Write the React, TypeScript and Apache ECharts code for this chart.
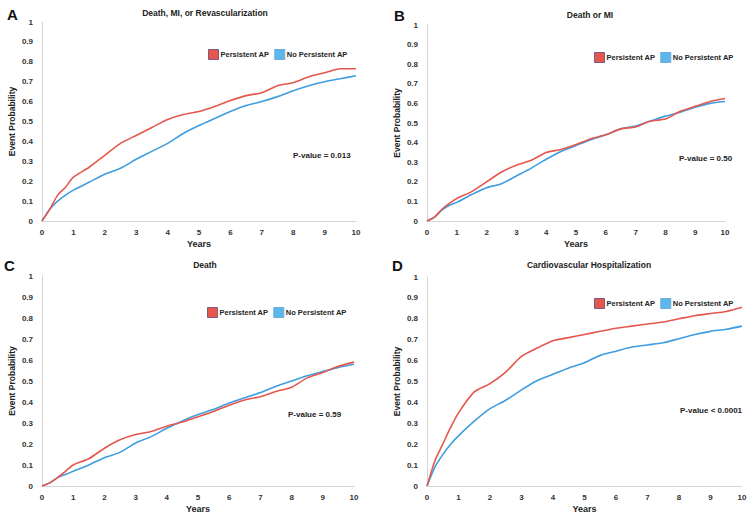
import React, { useEffect, useRef } from "react";
import * as echarts from "echarts";

const years = [0, 0.25, 0.5, 0.75, 1, 1.5, 2, 2.5, 3, 3.5, 4, 4.5, 5, 5.5, 6, 6.5, 7, 7.5, 8, 8.5, 9, 9.5, 10];

const aPersistent = [0, 0.06, 0.13, 0.17, 0.22, 0.27, 0.33, 0.39, 0.43, 0.47, 0.51, 0.535, 0.55, 0.575, 0.605, 0.63, 0.645, 0.68, 0.695, 0.725, 0.745, 0.765, 0.765];
const aNoPersistent = [0, 0.06, 0.1, 0.13, 0.155, 0.195, 0.235, 0.265, 0.31, 0.35, 0.39, 0.44, 0.48, 0.515, 0.55, 0.58, 0.6, 0.625, 0.655, 0.68, 0.7, 0.715, 0.73];
const bPersistent = [0, 0.02, 0.06, 0.09, 0.115, 0.15, 0.2, 0.25, 0.285, 0.31, 0.35, 0.365, 0.39, 0.42, 0.44, 0.47, 0.48, 0.51, 0.52, 0.56, 0.585, 0.61, 0.625];
const bNoPersistent = [0, 0.02, 0.055, 0.08, 0.095, 0.135, 0.17, 0.19, 0.23, 0.27, 0.315, 0.355, 0.385, 0.415, 0.44, 0.47, 0.485, 0.51, 0.535, 0.555, 0.58, 0.6, 0.61];
const cPersistent = [0, 0.015, 0.04, 0.07, 0.1, 0.13, 0.18, 0.22, 0.245, 0.26, 0.285, 0.305, 0.33, 0.355, 0.385, 0.41, 0.425, 0.45, 0.47, 0.515, 0.54, 0.57, 0.59];
const cNoPersistent = [0, 0.015, 0.04, 0.055, 0.07, 0.1, 0.135, 0.16, 0.205, 0.235, 0.275, 0.31, 0.34, 0.365, 0.395, 0.42, 0.445, 0.475, 0.5, 0.525, 0.545, 0.565, 0.58];
const dPersistent = [0, 0.12, 0.2, 0.28, 0.35, 0.45, 0.49, 0.545, 0.62, 0.66, 0.695, 0.71, 0.725, 0.74, 0.755, 0.765, 0.775, 0.785, 0.8, 0.815, 0.825, 0.835, 0.855];
const dNoPersistent = [0, 0.09, 0.15, 0.2, 0.24, 0.31, 0.37, 0.41, 0.46, 0.505, 0.535, 0.565, 0.59, 0.625, 0.645, 0.665, 0.675, 0.685, 0.705, 0.725, 0.74, 0.75, 0.765];

const panelLetters = ["A", "B", "C", "D"];
const panelTitles = ["Death, MI, or Revascularization", "Death or MI", "Death", "Cardiovascular Hospitalization"];
const pValues = ["P-value = 0.013", "P-value = 0.50", "P-value = 0.59", "P-value < 0.0001"];
const seriesNames = ["Persistent AP", "No Persistent AP"];

const RED = "#e5574c";
const BLUE = "#3f9de0";
const FONT = "Liberation Sans";

const grids = [
  { left: 42, top: 22, width: 314, height: 199 },
  { left: 427, top: 25, width: 298, height: 196 },
  { left: 42, top: 276, width: 312, height: 210 },
  { left: 427, top: 277, width: 315, height: 209 },
];
const titlePos = [
  { x: 205, y: 13 },
  { x: 590, y: 15 },
  { x: 205, y: 265 },
  { x: 589, y: 265 },
];
const letterPos = [
  { x: 7, y: 14 },
  { x: 394, y: 15 },
  { x: 4, y: 265 },
  { x: 392, y: 265 },
];
const legendPos = [
  { x: 208, y: 49 },
  { x: 594, y: 52 },
  { x: 207, y: 307 },
  { x: 594, y: 298 },
];
const pPos = [
  { x: 293, y: 155 },
  { x: 679, y: 158 },
  { x: 288, y: 414 },
  { x: 680, y: 410 },
];

export default function App() {
  const ref = useRef<HTMLDivElement>(null);
  useEffect(() => {
    if (!ref.current) return;
    const chart = echarts.init(ref.current, null, { renderer: "svg" });
    const data = [
      [aPersistent, aNoPersistent],
      [bPersistent, bNoPersistent],
      [cPersistent, cNoPersistent],
      [dPersistent, dNoPersistent],
    ];
    const series: any[] = [];
    data.forEach((pair, gi) => {
      pair.forEach((vals, si) => {
        series.push({
          type: "line",
          name: seriesNames[si],
          xAxisIndex: gi,
          yAxisIndex: gi,
          data: years.map((x, i) => [x, vals[i]]),
          showSymbol: false,
          smooth: 0.25,
          lineStyle: { width: 1.6, color: si === 0 ? RED : BLUE },
          itemStyle: { color: si === 0 ? RED : BLUE },
          z: si === 0 ? 3 : 2,
        });
      });
    });
    const axisLabel = { color: "#333", fontFamily: FONT, fontWeight: "bold" as const, fontSize: 8 };
    const option: any = {
      animation: false,
      backgroundColor: "#ffffff",
      grid: grids.map((g) => ({ ...g, containLabel: false })),
      xAxis: grids.map((_, i) => ({
        type: "value",
        gridIndex: i,
        min: 0,
        max: 10,
        interval: 1,
        name: "Years",
        nameLocation: "middle",
        nameGap: 18,
        nameTextStyle: { color: "#222", fontFamily: FONT, fontWeight: "bold", fontSize: 9 },
        axisLine: { show: true, lineStyle: { color: "#d4d4d4", width: 1 } },
        axisTick: { show: false },
        splitLine: { show: false },
        axisLabel: { ...axisLabel, margin: 7 },
      })),
      yAxis: grids.map((_, i) => ({
        type: "value",
        gridIndex: i,
        min: 0,
        max: 1,
        interval: 0.1,
        name: "Event Probability",
        nameLocation: "middle",
        nameGap: 26,
        nameTextStyle: { color: "#222", fontFamily: FONT, fontWeight: "bold", fontSize: 8.5 },
        axisLine: { show: true, lineStyle: { color: "#d4d4d4", width: 1 } },
        axisTick: { show: false },
        splitLine: { show: false },
        axisLabel: { ...axisLabel, margin: 9, formatter: (v: number) => String(Math.round(v * 10) / 10) },
      })),
      legend: legendPos.map((p) => ({
        left: p.x,
        top: p.y,
        padding: 0,
        itemWidth: 10,
        itemHeight: 10,
        itemGap: 5,
        icon: "rect",
        selectedMode: false,
        textStyle: { color: "#222", fontFamily: FONT, fontWeight: "bold", fontSize: 7.5, padding: [0, 0, 0, -3] },
        data: [
          { name: seriesNames[0], itemStyle: { color: RED, borderColor: "#7d5a86", borderWidth: 1 } },
          { name: seriesNames[1], itemStyle: { color: "#5cb8ec", borderColor: "#6faad8", borderWidth: 1 } },
        ],
      })),
      graphic: [
        ...panelTitles.map((t, i) => ({
          type: "text",
          x: titlePos[i].x,
          y: titlePos[i].y,
          style: { text: t, fill: "#222", font: `bold 8.5px "${FONT}"`, align: "center", verticalAlign: "middle" },
        })),
        ...panelLetters.map((t, i) => ({
          type: "text",
          x: letterPos[i].x,
          y: letterPos[i].y,
          style: { text: t, fill: "#111", font: `bold 15px "${FONT}"`, align: "left", verticalAlign: "middle" },
        })),
        ...pValues.map((t, i) => ({
          type: "text",
          x: pPos[i].x,
          y: pPos[i].y,
          style: { text: t, fill: "#222", font: `bold 8px "${FONT}"`, align: "left", verticalAlign: "middle" },
        })),
      ],
      series,
    };
    chart.setOption(option);
    return () => chart.dispose();
  }, []);
  return (
    <div
      ref={ref}
      style={{ position: "fixed", left: 0, top: 0, width: 754, height: 518, background: "#fff" }}
    />
  );
}
